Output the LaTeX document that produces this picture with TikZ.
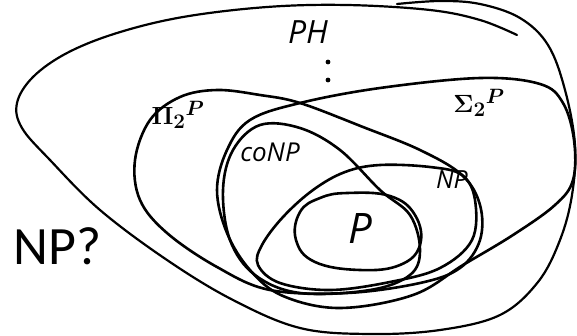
\documentclass[tikz,border=0pt]{standalone}
\usepackage{fontspec}
\setmainfont{Carlito}
\setsansfont{Open Sans}
\tikzset{
  hand/.style={line width=2.6pt, line cap=round, line join=round},
  handlabel/.style={font=\sffamily\itshape, inner sep=0pt}
}
\begin{document}
\begin{tikzpicture}[x=1pt, y=-1pt]

    \useasboundingbox (0,0) rectangle (577,335);

    % 画外圈 PH
    \draw[hand, line width=2.2pt] plot[smooth, tension=0.6] coordinates {
      (397,4) (440,1) (480,4) (520,18) (548,45) (565,90) (575,145) (572,195)
      (560,240) (538,282) (500,315) (440,330) (370,334) (300,328) (233,300)
      (167,260) (100,210) (50,160) (22,128) (17,103) (33,77) (67,53) (117,33)
      (183,17) (267,7) (347,5) (430,10) (480,20) (517,35)};

    % 画 Sigma 圈
    \draw[hand] plot[smooth cycle, tension=0.6] coordinates {
      (300,103) (380,88) (480,78) (540,84) (563,103) (574,140) (573,180)
      (555,205) (513,235) (463,265) (413,295) (340,308) (283,296) (250,270)
      (227,233) (217,190) (227,150) (250,120)};

    % 画 Pi 圈
    \draw[hand] plot[smooth cycle, tension=0.6] coordinates {
      (217,90) (260,95) (300,103) (363,127) (420,150) (462,175) (480,205)
      (480,240) (460,268) (420,283) (347,293) (270,290) (217,267) (167,233)
      (140,200) (135,160) (150,120) (180,97)};

    % 画 coNP 圈
    \draw[hand] plot[smooth cycle, tension=0.6] coordinates {
      (260,125) (300,128) (340,150) (380,190) (410,215) (420,250) (410,275)
      (370,290) (300,293) (255,275) (230,240) (223,190) (233,150)};

    % 画 NP 圈
    \draw[hand] plot[smooth cycle, tension=0.6] coordinates {
      (380,165) (430,167) (462,175) (475,200) (472,240) (440,268) (390,282)
      (330,290) (280,283) (258,265) (262,245) (283,217) (313,190) (345,172)};

    % 画 P 圈
    \draw[hand] plot[smooth cycle, tension=0.7] coordinates {
      (347,193) (390,196) (415,215) (420,245) (400,265) (360,270) (315,262)
      (296,240) (300,212) (320,198)};

    % 插入文字
    \node[handlabel, font=\sffamily\itshape\fontsize{32}{34}\selectfont] (ph) at (308,32) {PH};
    \fill (328,62) circle (2.4pt) (328,80) circle (2.4pt);
    \node[handlabel, font=\boldmath\fontsize{28}{30}\selectfont] (pitwo) at (178,115) {$\Pi_2{}^P$};
    \node[handlabel, font=\boldmath\fontsize{30}{32}\selectfont] (sigmatwo) at (479,103) {$\Sigma_2{}^P$};
    \node[handlabel, font=\sffamily\itshape\fontsize{26}{28}\selectfont] (conp) at (270,152) {coNP};
    \node[handlabel, font=\sffamily\itshape\fontsize{25}{27}\selectfont] (np) at (452,180) {NP};
    \node[handlabel, font=\sffamily\itshape\fontsize{42}{44}\selectfont] (p) at (360,229) {P};
    \node[anchor=west, inner sep=0pt, font=\fontsize{54}{56}\selectfont] (npq) at (13,246) {NP?};

  \end{tikzpicture}
\end{document}
